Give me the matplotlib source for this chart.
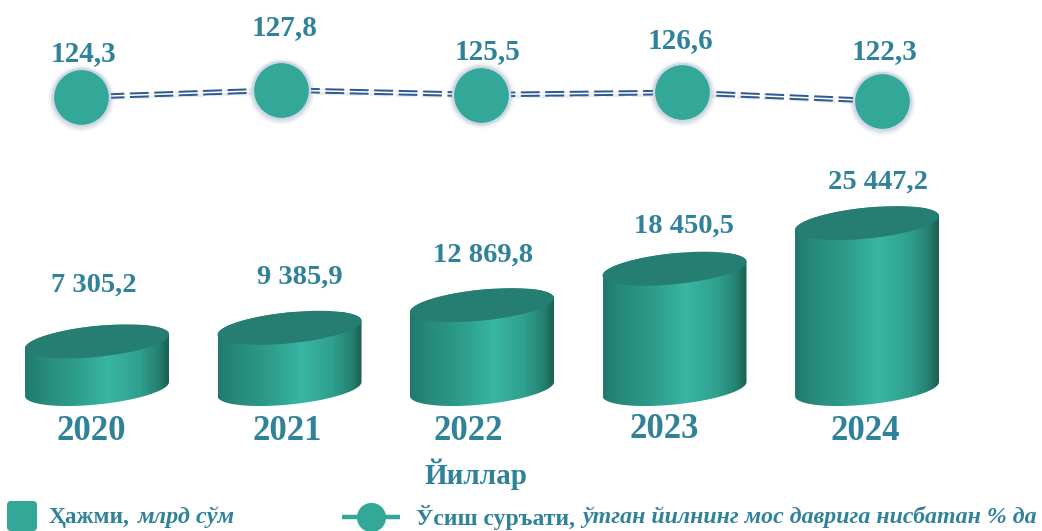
import numpy as np
import matplotlib
matplotlib.use('Agg')
import matplotlib.pyplot as plt
from matplotlib.colors import LinearSegmentedColormap
from matplotlib.patches import FancyBboxPatch, Polygon

plt.rcParams['font.family'] = ['Liberation Serif', 'DejaVu Serif']

years = ['2020', '2021', '2022', '2023', '2024']
volume = [7305.2, 9385.9, 12869.8, 18450.5, 25447.2]
growth = [124.3, 127.8, 125.5, 126.6, 122.3]

W, H = 1042, 531
TEXT = '#2f8299'
TEAL = '#33a899'

# pixel spots of the labels, they do not sit on a regular grid
vol_xy = [(94, 285), (300, 277), (483, 255), (684, 226), (878, 182)]
growth_xy = [(83, 54), (285, 28), (488, 52), (680, 41), (884, 52)]
year_xy = [(91, 431), (287, 431), (468, 431), (664, 429), (865, 431)]

fig = plt.figure(figsize=(W / 100, H / 100), dpi=100)

# bars: x in category index, y in volume
px_per_val = 0.00652
step = 192.5
ax = fig.add_axes([0, 0, 1, 1])
ax.axis('off')

cmap = LinearSegmentedColormap.from_list('cyl', [
    (0.0, '#1f7a6d'), (0.12, '#27897b'), (0.35, '#2d9c8b'), (0.58, '#39b6a4'),
    (0.8, '#2f9f8e'), (0.93, '#25806f'), (1.0, '#1b5f55')])
grad = np.linspace(0, 1, 256).reshape(1, -1)

half_w = 72 / step
half_h = 15.5 / px_per_val
tilt = 7 / px_per_val


def ellipse(cx, cy, t):
    return np.column_stack([cx + half_w * np.cos(t),
                            cy + half_h * np.sin(t) + tilt * np.cos(t)])


for i, v in enumerate(volume):
    low = ellipse(i, 0, np.linspace(np.pi, 2 * np.pi, 80))
    top = ellipse(i, v, np.linspace(0, np.pi, 80))
    body = Polygon(np.vstack([low, top]), closed=True, transform=ax.transData,
                   fc='none', ec='none')
    ax.add_patch(body)
    im = ax.imshow(grad, cmap=cmap, aspect='auto', zorder=2, interpolation='bilinear',
                   extent=(i - half_w, i + half_w, -half_h * 2, v + half_h))
    im.set_clip_path(body)
    ax.add_patch(Polygon(ellipse(i, v, np.linspace(0, 2 * np.pi, 160)), closed=True,
                         fc='#257e71', ec='none', zorder=3))
ax.set_xlim(-97 / step, (W - 97) / step)
ax.set_ylim((389 - H) / px_per_val, 389 / px_per_val)

# line: same idea, y in percent
ax2 = fig.add_axes([0, 0, 1, 1])
ax2.patch.set_alpha(0)
ax2.axis('off')
ax2.set_xlim(-81 / 200.25, (W - 81) / 200.25)
ax2.set_ylim(127.8 - (H - 90) / 2, 127.8 + 90 / 2)
xs = np.arange(len(growth))
ax2.plot(xs, np.array(growth) - 0.5, color='#9aa3ad', alpha=0.2, lw=4.5, dashes=(3.1, 1.1), zorder=0)
ax2.plot(xs, growth, color='#2f5a92', lw=4.0, dashes=(3.4, 1.0), zorder=1)
ax2.plot(xs, growth, color='white', lw=1.1, zorder=2)
for ms, a in [(48, 0.06), (46, 0.08), (44, 0.12)]:
    ax2.plot(xs, np.array(growth) - 0.4, 'o', ms=ms, color='#8c97a3', alpha=a, mew=0, zorder=3)
ax2.plot(xs, growth, 'o', ms=41, mfc=TEAL, mec='#cdd8e6', mew=1.6, zorder=4)

# labels and legend in pixel coordinates
ax3 = fig.add_axes([0, 0, 1, 1])
ax3.patch.set_alpha(0)
ax3.axis('off')
ax3.set_xlim(0, W)
ax3.set_ylim(H, 0)

for v, (x, y) in zip(volume, vol_xy):
    s = f'{v:,.1f}'.replace(',', ' ').replace('.', ',')
    ax3.text(x, y, s, ha='center', va='center', fontsize=20.5, fontweight='bold', color=TEXT)
for v, (x, y) in zip(growth, growth_xy):
    ax3.text(x, y, f'{v:.1f}'.replace('.', ','), ha='center', va='center',
             fontsize=21, fontweight='bold', color=TEXT)
for s, (x, y) in zip(years, year_xy):
    ax3.text(x, y, s, ha='center', va='center', fontsize=25, fontweight='bold', color=TEXT)
ax3.text(476, 474, 'Йиллар', ha='center', va='center', fontsize=21, fontweight='bold', color=TEXT)

ax3.add_patch(FancyBboxPatch((10, 504), 24, 24, boxstyle='round,pad=3,rounding_size=4',
                             fc=TEAL, ec='none'))
ax3.text(49, 517, 'Ҳажми,', ha='left', va='center', fontsize=16.8, fontweight='bold', color=TEXT)
ax3.text(138, 517, 'млрд сўм', ha='left', va='center', fontsize=17.5, fontweight='bold',
         fontstyle='italic', color=TEXT)

ax3.plot([342, 400], [517, 517], color=TEAL, lw=3.2, solid_capstyle='butt')
ax3.plot([371], [517], 'o', ms=21, color=TEAL, mew=0)
ax3.text(416, 517, 'Ўсиш суръати,', ha='left', va='center', fontsize=17, fontweight='bold', color=TEXT)
ax3.text(582, 517, 'ўтган йилнинг мос даврига нисбатан % да', ha='left', va='center',
         fontsize=17.2, fontweight='bold', fontstyle='italic', color=TEXT)

fig.savefig('out.png', dpi=100)
